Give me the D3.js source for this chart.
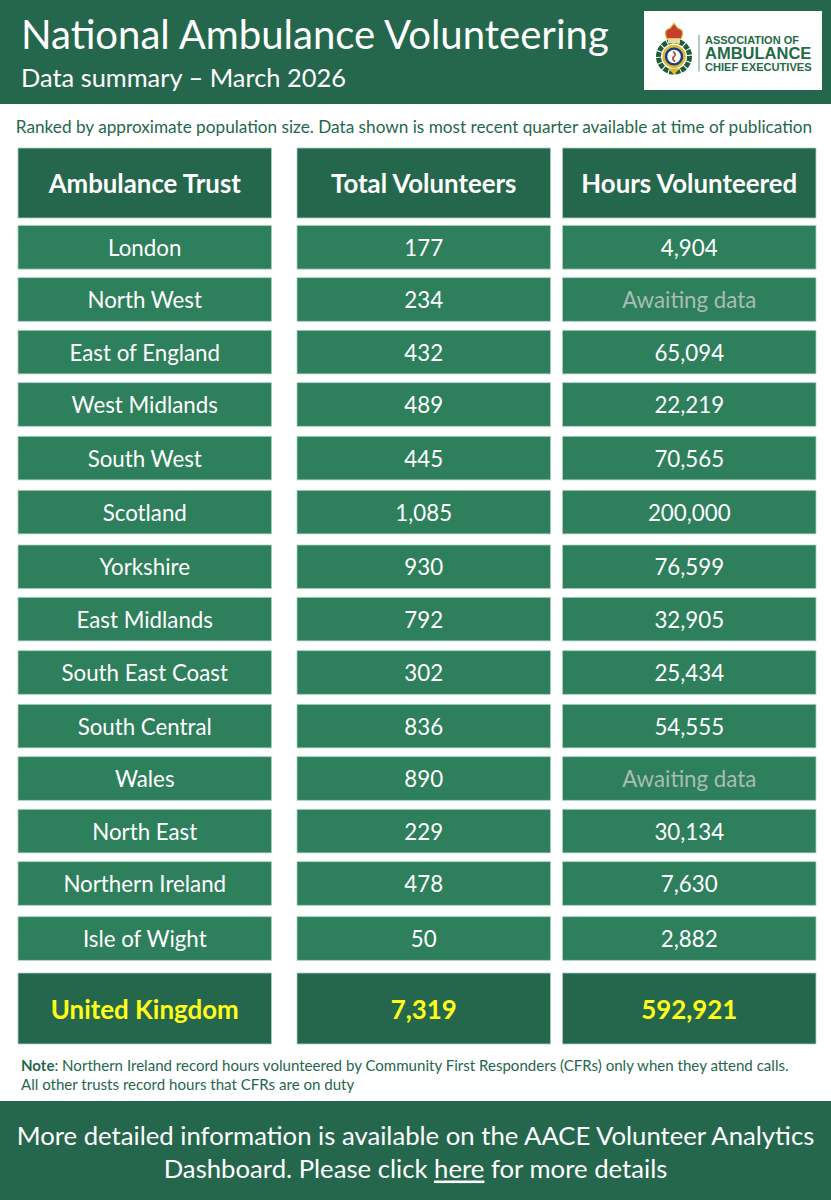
<!DOCTYPE html>
<html>
<head>
<meta charset="utf-8">
<script src="https://cdn.jsdelivr.net/npm/d3@7"></script>
<style>
  html, body { margin: 0; padding: 0; background: #fff; }
  svg { display: block; }
  text { font-family: Lato, "Open Sans", sans-serif; }
</style>
</head>
<body>
<svg id="chart"></svg>
<script>
const trusts = ["London", "North West", "East of England", "West Midlands", "South West", "Scotland", "Yorkshire",
  "East Midlands", "South East Coast", "South Central", "Wales", "North East", "Northern Ireland", "Isle of Wight"];
const volunteers = [177, 234, 432, 489, 445, 1085, 930, 792, 302, 836, 890, 229, 478, 50];
const hours = [4904, null, 65094, 22219, 70565, 200000, 76599, 32905, 25434, 54555, null, 30134, 7630, 2882];
const columnLabels = ["Ambulance Trust", "Total Volunteers", "Hours Volunteered"];
const totalLabel = "United Kingdom";
const totalVolunteers = 7319;
const totalHours = 592921;

const width = 831, height = 1200;
const dark = "#25674c", mid = "#2e7f5c", edge = "#a9d3c0", yellow = "#ffff1a";

const svg = d3.select("#chart").attr("width", width).attr("height", height);
const fmt = d3.format(",");

// the three columns are not evenly spaced so ordinal not band
const colX = d3.scaleOrdinal().domain(columnLabels).range([18, 297, 562.5]);
const colW = 253.5;
// same for rows, the table was laid out by hand and the gaps vary by a pixel or two
const rowY = d3.scaleOrdinal().domain(trusts)
  .range([225.5, 277.7, 330.3, 382.7, 436.3, 490.3, 545, 597.3, 650.7, 704.3, 756.7, 809.3, 861.7, 916.7]);
const rowH = 43.6;

function cell(x, y, w, h, fill, stroke) {
  svg.append("rect").attr("x", x).attr("y", y).attr("width", w).attr("height", h)
    .attr("fill", fill).attr("stroke", stroke).attr("stroke-width", 0.8);
}

function label(x, y, str, size, fill, weight, anchor) {
  return svg.append("text").attr("x", x).attr("y", y).text(str)
    .attr("font-size", size).attr("fill", fill)
    .attr("font-weight", weight || 400)
    .attr("text-anchor", anchor || "middle")
    .attr("dominant-baseline", "central");
}

// top banner
svg.append("rect").attr("width", width).attr("height", 104).attr("fill", dark);
label(21, 33.5, "National Ambulance Volunteering", 40.1, "#fff", 400, "start");
label(21, 77, "Data summary – March 2026", 25.4, "#fff", 400, "start");

// logo box
svg.append("rect").attr("x", 644).attr("y", 11).attr("width", 178).attr("height", 79).attr("fill", "#fff");
const crest = svg.append("g").attr("transform", "translate(674,56.5)");
crest.append("circle").attr("r", 15.5).attr("fill", "none").attr("stroke", "#1e5c3a").attr("stroke-width", 5).attr("stroke-dasharray", "5 1");
crest.append("circle").attr("r", 10.5).attr("fill", "#f4efe0").attr("stroke", "#e0b92e").attr("stroke-width", 2.5);
crest.append("circle").attr("r", 8).attr("fill", "#fff").attr("stroke", "#1a3f7a").attr("stroke-width", 2.5);
crest.append("path").attr("d", "M-1,-5 Q3,-2 0,0 Q-3,2 1,5").attr("fill", "none").attr("stroke", "#b5432a").attr("stroke-width", 1.6);
crest.append("path").attr("d", "M-7,-18 Q-11,-27 -4,-28 L0,-33 L4,-28 Q11,-27 7,-18 Z").attr("fill", "#c4402c").attr("stroke", "#d9ad2a").attr("stroke-width", 1.2);
crest.append("rect").attr("x", -6).attr("y", -18).attr("width", 12).attr("height", 5).attr("fill", "#e8d9a0");
crest.append("path").attr("d", "M-6,12 L6,12 L0,18 Z").attr("fill", "#e0b92e");
svg.append("line").attr("x1", 699).attr("x2", 699).attr("y1", 35).attr("y2", 71.5).attr("stroke", "#5f9c82").attr("stroke-width", 1);
const logoFont = '"Liberation Sans", Arial, sans-serif';
label(705, 40, "ASSOCIATION OF", 11, "#1f6b45", 700, "start").style("font-family", logoFont);
label(705, 53, "AMBULANCE", 16.5, "#1f6b45", 700, "start").style("font-family", logoFont);
label(705, 67, "CHIEF EXECUTIVES", 11.1, "#1f6b45", 700, "start").style("font-family", logoFont);

label(414, 126.5, "Ranked by approximate population size. Data shown is most recent quarter available at time of publication", 17.2, dark);

// header row
columnLabels.forEach(c => {
  cell(colX(c), 148, colW, 70, dark, edge);
  label(colX(c) + colW / 2, 183, c, 25.8, "#fff", 700);
});

// body rows
const rows = svg.append("g").selectAll("g").data(trusts).enter().append("g")
  .attr("transform", d => `translate(0,${rowY(d)})`);

columnLabels.forEach((c, j) => {
  rows.append("rect")
    .attr("x", colX(c)).attr("width", colW).attr("height", rowH)
    .attr("fill", mid).attr("stroke", edge).attr("stroke-width", 0.8);
  rows.append("text")
    .attr("x", colX(c) + colW / 2).attr("y", rowH / 2)
    .attr("text-anchor", "middle").attr("dominant-baseline", "central")
    .attr("font-size", 22.3)
    .attr("fill", (d, i) => j === 2 && hours[i] === null ? "#a9bdb4" : "#fff")
    .text((d, i) => {
      if (j === 0) return d;
      if (j === 1) return fmt(volunteers[i]);
      return hours[i] === null ? "Awaiting data" : fmt(hours[i]);
    });
});

// total row
[totalLabel, fmt(totalVolunteers), fmt(totalHours)].forEach((t, j) => {
  const x = colX(columnLabels[j]);
  cell(x, 973, colW, 71, dark, edge);
  label(x + colW / 2, 1009, t, 25.9, yellow, 700);
});

// note
const note = label(21, 1064.5, "", 15.07, dark, 400, "start");
note.append("tspan").attr("font-weight", 700).text("Note");
note.append("tspan").text(": Northern Ireland record hours volunteered by Community First Responders (CFRs) only when they attend calls.");
label(21, 1083.5, "All other trusts record hours that CFRs are on duty", 15.07, dark, 400, "start");

// footer banner
svg.append("rect").attr("y", 1101).attr("width", width).attr("height", 99).attr("fill", dark);
label(415.5, 1134.5, "More detailed information is available on the AACE Volunteer Analytics", 25.7, "#fff");
const foot = label(415.5, 1167.5, "Dashboard. Please click ", 25.7, "#fff");
foot.append("tspan").attr("text-decoration", "underline").text("here");
foot.append("tspan").text(" for more details");
</script>
</body>
</html>
